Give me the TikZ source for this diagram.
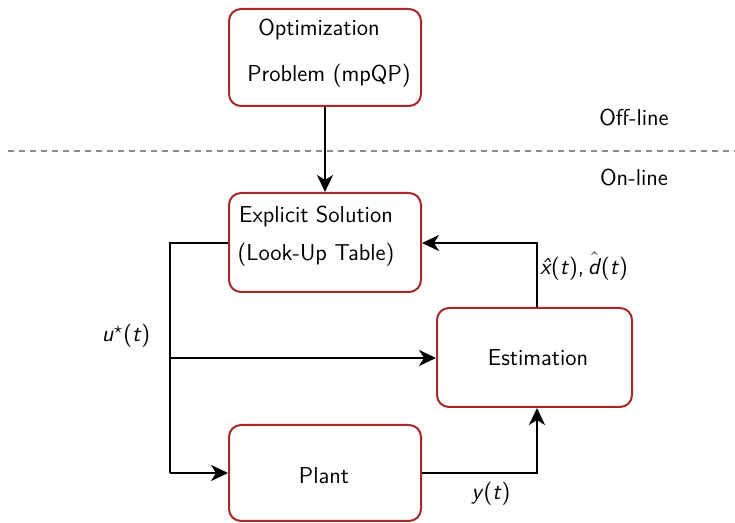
\documentclass[tikz,border=0pt]{standalone}
\usetikzlibrary{arrows.meta}
\definecolor{boxred}{RGB}{168,40,42}
\definecolor{sepgray}{RGB}{140,140,140}
\tikzset{
  block/.style={draw=boxred, line width=1pt, rounded corners=6pt, fill=white, inner sep=0pt},
  txt/.style={font=\sffamily\fontsize{11.5}{13}\selectfont, inner sep=0pt},
  wire/.style={line width=1.1pt, black},
  flow/.style={wire, -{Stealth[length=8.5pt,width=8pt,inset=2.5pt]}},
}
% slanted sans d carrying a hat accent
\newcommand{\dhatsl}{$\hat{\hbox{\textsl{d}}}$}
\begin{document}
\begin{tikzpicture}[x=0.5pt,y=-0.5pt]
\useasboundingbox (0,0) rectangle (735,523);

% off-line / on-line separator
\draw[sepgray, line width=1pt, dash pattern=on 3pt off 2.5pt] (8,151) -- (735,151);
\node[txt] (off) at (634,118) {Off-line};
\node[txt] (on) at (634,178) {On-line};

% blocks
\node[block, minimum width=96pt, minimum height=48.5pt] (opt) at (325,57.5) {};
\node[txt] (opt1) at (319,30) {Optimization};
\node[txt] (opt2) at (329,76) {Problem (mpQP)};

\node[block, minimum width=96pt, minimum height=49.5pt] (sol) at (325,242.5) {};
\node[txt] (sol1) at (316,217) {Explicit Solution};
\node[txt] (sol2) at (316,255) {(Look-Up Table)};

\node[block, minimum width=97.5pt, minimum height=49.5pt] (est) at (534.5,357.5) {};
\node[txt] (est1) at (538,358) {Estimation};

\node[block, minimum width=96pt, minimum height=48pt] (plant) at (325,473) {};
\node[txt] (plant1) at (324,476) {Plant};

% signal routing
\coordinate (split) at (170,243);
\coordinate (branch) at (170,358);
\coordinate (down) at (170,473);
\coordinate (yout) at (537,473);
\coordinate (xup) at (537,243);

\draw[flow] (opt.south) -- (sol.north);
\draw[wire] (sol.west |- split) -- (split) -- (down);
\draw[flow] (down) -- (plant.west |- down);
\draw[flow] (branch) -- (est.west |- branch);
\draw[flow] (plant.east |- yout) -- (yout) -- (est.south -| yout);
\draw[flow] (est.north -| xup) -- (xup) -- (sol.east |- xup);

% signal labels
\node[txt] (ulab) at (126,336) {\textsl{u}$^{\star}$(\textsl{t})};
\node[txt] (xlab) at (584,266) {\textsl{\^x}(\textsl{t}),\,\dhatsl(\textsl{t})};
\node[txt] (ylab) at (491,494) {\textsl{y}(\textsl{t})};
\end{tikzpicture}
\end{document}
